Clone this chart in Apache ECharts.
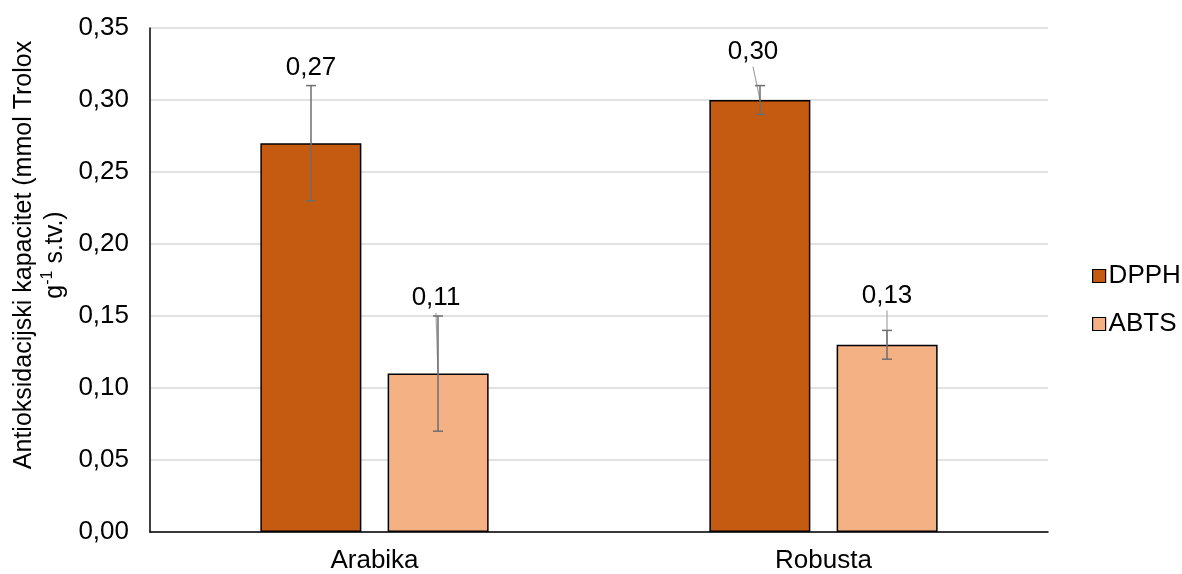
<!DOCTYPE html>
<html>
<head>
<meta charset="utf-8">
<script src="https://cdn.jsdelivr.net/npm/echarts@6/dist/echarts.min.js"></script>
<style>html,body{margin:0;padding:0;background:#fff}#c{width:1182px;height:574px}</style>
</head>
<body>
<div id="c"></div>
<script>
const categories = ['Arabika', 'Robusta'];
const seriesNames = ['DPPH', 'ABTS'];
const dpphValues = [0.27, 0.30];
const abtsValues = [0.11, 0.13];
const dpphErrLow = [0.23, 0.29];
const dpphErrHigh = [0.31, 0.31];
const abtsErrLow = [0.07, 0.12];
const abtsErrHigh = [0.15, 0.14];
const yTicks = [0, 0.05, 0.10, 0.15, 0.20, 0.25, 0.30, 0.35];

const FONT = 'Liberation Sans, Arial, sans-serif';
const FS = 26;
const colors = ['#C55A11', '#F4B183'];
const fmt = v => v.toFixed(2).replace('.', ',');

// label placement tweaks (pixels relative to the error-bar top), per series/category
const labelShift = {
  DPPH: [[0, -18], [-7, -34]],
  ABTS: [[-2, -18], [0, -35]]
};
const leaderShow = {
  DPPH: [false, true],
  ABTS: [true, true]
};

function errSeries(name, values, lows, highs, sideFrac) {
  return {
    type: 'custom',
    name: name + '_err',
    z: 5,
    silent: true,
    data: categories.map((c, i) => [i, lows[i], highs[i], values[i]]),
    renderItem: function (params, api) {
      const i = api.value(0);
      const band = api.size([1, 0])[0];
      const off = sideFrac * band;
      const pHi = api.coord([i, api.value(2)]);
      const pLo = api.coord([i, api.value(1)]);
      const pVal = api.coord([i, api.value(3)]);
      const x = pHi[0] + off;
      const cap = 5;
      const sh = labelShift[name][i];
      const lx = x + sh[0], ly = pHi[1] + sh[1];
      const children = [];
      if (leaderShow[name][i]) {
        children.push({
          type: 'line',
          shape: { x1: lx, y1: ly + 15, x2: x, y2: pVal[1] },
          style: { stroke: '#A6A6A6', lineWidth: 1.2 }
        });
      }
      children.push(
        { type: 'line', shape: { x1: x, y1: pHi[1], x2: x, y2: pLo[1] }, style: { stroke: '#6E6E6E', lineWidth: 1.5 } },
        { type: 'line', shape: { x1: x - cap, y1: pHi[1], x2: x + cap, y2: pHi[1] }, style: { stroke: '#6E6E6E', lineWidth: 1.5 } },
        { type: 'line', shape: { x1: x - cap, y1: pLo[1], x2: x + cap, y2: pLo[1] }, style: { stroke: '#6E6E6E', lineWidth: 1.5 } },
        {
          type: 'text',
          style: {
            text: fmt(api.value(3)), x: lx, y: ly,
            fill: '#000', font: FS + 'px ' + FONT,
            align: 'center', verticalAlign: 'middle'
          }
        }
      );
      return { type: 'group', children: children };
    }
  };
}

const chart = echarts.init(document.getElementById('c'), null, { renderer: 'canvas' });
chart.setOption({
  backgroundColor: '#fff',
  animation: false,
  textStyle: { fontFamily: FONT },
  grid: { left: 150, right: 134, top: 28, bottom: 42, containLabel: false },
  legend: {
    data: seriesNames.map(n => ({ name: n, icon: 'rect' })),
    orient: 'vertical',
    left: 1087,
    top: 258,
    itemWidth: 13,
    itemHeight: 13,
    itemGap: 22,
    textStyle: { fontSize: FS, color: '#000', fontFamily: FONT, padding: [0, 0, 0, -2] },
    itemStyle: { borderColor: '#000', borderWidth: 1.2 }
  },
  xAxis: {
    type: 'category',
    data: categories,
    axisLine: { lineStyle: { color: '#000', width: 1.5 } },
    axisTick: { show: false },
    axisLabel: { fontSize: FS, color: '#000', margin: 16, fontFamily: FONT }
  },
  yAxis: {
    type: 'value',
    min: yTicks[0],
    max: yTicks[yTicks.length - 1],
    interval: 0.05,
    axisLine: { show: true, lineStyle: { color: '#000', width: 1.5 } },
    axisTick: { show: false },
    splitLine: { lineStyle: { color: '#D9D9D9', width: 1.5 } },
    axisLabel: { fontSize: FS, color: '#000', margin: 21, fontFamily: FONT, formatter: v => fmt(v) }
  },
  graphic: [{
    type: 'text',
    x: 40, y: 255,
    rotation: Math.PI / 2,
    style: {
      text: '{a|Antioksidacijski kapacitet (mmol Trolox}\n{a|g}{s|-1}{a| s.tv.)}',
      align: 'center', verticalAlign: 'middle',
      rich: {
        a: { fontSize: 25, fontFamily: FONT, fill: '#000', lineHeight: 31 },
        s: { fontSize: 16, fontFamily: FONT, fill: '#000', verticalAlign: 'top', lineHeight: 31, padding: [0, 0, 12, 0] }
      }
    }
  }],
  series: [
    {
      name: 'DPPH', type: 'bar', data: dpphValues, barWidth: 101, barGap: '26%',
      itemStyle: { color: colors[0], borderColor: '#000', borderWidth: 1.5 }
    },
    {
      name: 'ABTS', type: 'bar', data: abtsValues, barWidth: 101, barGap: '26%',
      itemStyle: { color: colors[1], borderColor: '#000', borderWidth: 1.5 }
    },
    errSeries('DPPH', dpphValues, dpphErrLow, dpphErrHigh, -63.5 / 449),
    errSeries('ABTS', abtsValues, abtsErrLow, abtsErrHigh, 63.5 / 449)
  ]
});
</script>
</body>
</html>
